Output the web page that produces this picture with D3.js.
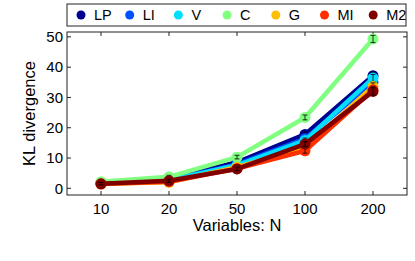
<!DOCTYPE html>
<html>
<head>
<meta charset="utf-8">
<script src="https://cdn.jsdelivr.net/npm/d3@7"></script>
<style>
body { margin: 0; background: #fff; }
text { font-family: "Liberation Sans", Arial, sans-serif; fill: #000; }
</style>
</head>
<body>
<div id="chart"></div>
<script>
const Ns = ["10", "20", "50", "100", "200"];
const seriesNames = ["LP", "LI", "V", "C", "G", "MI", "M2"];
const colors = ["#00008f", "#0050ff", "#00dfff", "#80ff80", "#ffbf00", "#ff3000", "#800000"];
const LP = [1.8, 3.0, 8.6, 17.8, 37.2];
const LI = [1.7, 2.8, 7.9, 16.4, 35.0];
const V  = [1.6, 2.7, 7.6, 15.8, 36.4];
const C  = [2.2, 3.8, 10.3, 23.4, 49.3];
const G  = [1.5, 2.0, 7.0, 13.4, 33.6];
const MI = [1.4, 2.2, 6.5, 12.4, 32.5];
const M2 = [1.5, 2.5, 6.4, 14.6, 32.0];
const errs = [0.4, 0.5, 0.6, 0.8, 1.2];
const yTicks = [0, 10, 20, 30, 40, 50];
const values = [LP, LI, V, C, G, MI, M2];

const W = 415, H = 261;
const margin = { top: 32, right: 8, left: 67, bottom: 66 };
const width = W - margin.left - margin.right;
const height = H - margin.top - margin.bottom;

const svg = d3.select("#chart").append("svg")
    .attr("width", W).attr("height", H);

const g = svg.append("g")
    .attr("transform", `translate(${margin.left}, ${margin.top})`);

const x = d3.scaleBand().domain(Ns).range([0, width]);
const cx = d => x(d) + x.bandwidth() / 2;
const y = d3.scaleLinear().domain([-2.2, 51.6]).range([height, 0]);

// axes box
g.append("rect").attr("width", width).attr("height", height)
    .attr("fill", "none").attr("stroke", "#222").attr("stroke-width", 1);

// ticks inward
const tk = 4;
Ns.forEach(n => {
    g.append("line").attr("x1", cx(n)).attr("x2", cx(n)).attr("y1", height).attr("y2", height - tk).attr("stroke", "#222");
    g.append("line").attr("x1", cx(n)).attr("x2", cx(n)).attr("y1", 0).attr("y2", tk).attr("stroke", "#222");
    g.append("text").attr("x", cx(n)).attr("y", height + 19)
        .attr("text-anchor", "middle").attr("font-size", 15).text(n);
});
yTicks.forEach(t => {
    g.append("line").attr("x1", 0).attr("x2", tk).attr("y1", y(t)).attr("y2", y(t)).attr("stroke", "#222");
    g.append("line").attr("x1", width).attr("x2", width - tk).attr("y1", y(t)).attr("y2", y(t)).attr("stroke", "#222");
    g.append("text").attr("x", -4).attr("y", y(t)).attr("dy", "0.35em")
        .attr("text-anchor", "end").attr("font-size", 15).text(t);
});

// series
const line = d3.line().x((d, i) => cx(Ns[i])).y(d => y(d));
values.forEach((vals, s) => {
    const sg = g.append("g");
    sg.append("path").datum(vals).attr("d", line)
        .attr("fill", "none").attr("stroke", colors[s]).attr("stroke-width", 4.5)
        .attr("stroke-linejoin", "round");
    sg.selectAll("circle").data(vals).join("circle")
        .attr("cx", (d, i) => cx(Ns[i])).attr("cy", d => y(d)).attr("r", 5.5)
        .attr("fill", colors[s]);
    vals.forEach((v, i) => {
        const px = cx(Ns[i]), e = errs[i];
        sg.append("line").attr("x1", px).attr("x2", px).attr("y1", y(v - e)).attr("y2", y(v + e)).attr("stroke", "#000").attr("stroke-width", 0.8);
        [v - e, v + e].forEach(b => sg.append("line").attr("x1", px - 2.5).attr("x2", px + 2.5)
            .attr("y1", y(b)).attr("y2", y(b)).attr("stroke", "#000").attr("stroke-width", 0.8));
    });
});

// axis labels
svg.append("text").attr("x", margin.left + width / 2).attr("y", 231)
    .attr("text-anchor", "middle").attr("font-size", 16.5).text("Variables: N");
svg.append("text").attr("transform", `translate(35, ${margin.top + height / 2}) rotate(-90)`)
    .attr("text-anchor", "middle").attr("font-size", 16.5).text("KL divergence");

// legend
const lg = svg.append("g");
lg.append("rect").attr("x", 67).attr("y", 4).attr("width", 339).attr("height", 22)
    .attr("fill", "#fff").attr("stroke", "#222");
seriesNames.forEach((name, s) => {
    const lx = 81 + s * 48.7;
    lg.append("circle").attr("cx", lx).attr("cy", 15).attr("r", 4.5).attr("fill", colors[s]);
    lg.append("text").attr("x", lx + 13).attr("y", 15).attr("dy", "0.35em")
        .attr("font-size", 14.5).text(name);
});
</script>
</body>
</html>
